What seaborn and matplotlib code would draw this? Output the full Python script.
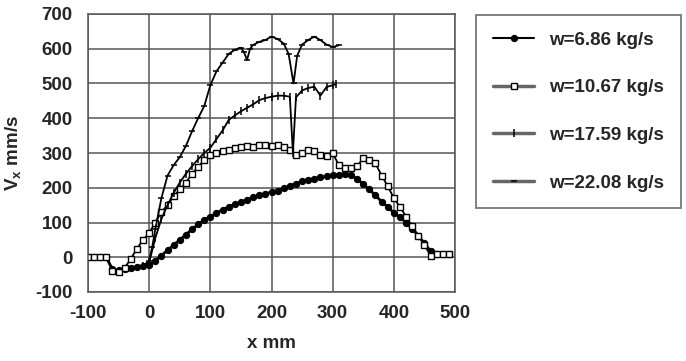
import matplotlib
matplotlib.use("Agg")
import matplotlib.pyplot as plt
import seaborn as sns
import numpy as np

# ---- data ----
x_686 = [-100, -90, -80, -70, -60, -50, -40, -30, -20, -10, 0, 10, 20, 30, 40, 50, 60, 70, 80, 90,
         100, 110, 120, 130, 140, 150, 160, 170, 180, 190, 200, 210, 220, 230, 240, 250, 260, 270, 280, 290,
         300, 310, 320, 330, 340, 350, 360, 370, 380, 390, 400, 410, 420, 430, 440, 450, 460, 470, 480, 490]
v_686 = [0, 0, 0, 0, -35, -38, -35, -30, -28, -25, -22, -10, 5, 20, 35, 50, 65, 80, 95, 107,
         117, 127, 137, 145, 152, 158, 165, 172, 178, 183, 187, 192, 198, 205, 212, 218, 222, 226, 230, 233,
         237, 238, 240, 237, 225, 210, 195, 178, 160, 145, 128, 115, 100, 82, 62, 40, 18, 10, 10, 10]

x_1067 = [-100, -90, -80, -70, -60, -50, -40, -30, -20, -10, 0, 10, 20, 30, 40, 50, 60, 70, 80, 90,
          100, 110, 120, 130, 140, 150, 160, 170, 180, 190, 200, 210, 220, 230, 240, 250, 260, 270, 280, 290,
          300, 310, 320, 330, 340, 350, 360, 370, 380, 390, 400, 410, 420, 430, 440, 450, 460, 470, 480, 490]
v_1067 = [0, 0, 0, 0, -40, -42, -30, -5, 25, 50, 70, 100, 130, 150, 175, 195, 215, 240, 260, 280,
          295, 300, 305, 310, 315, 318, 320, 318, 322, 323, 320, 322, 318, 310, 295, 300, 310, 305, 295, 290,
          300, 265, 258, 256, 262, 285, 280, 270, 235, 205, 170, 145, 117, 90, 62, 35, 5, 10, 10, 10]

x_1759 = [-10, 0, 10, 20, 30, 40, 50, 60, 70, 80, 90, 100, 110, 120, 130, 140, 150, 160, 170, 180,
          190, 200, 210, 220, 230, 235, 240, 250, 260, 270, 280, 290, 300, 305]
v_1759 = [-25, -15, 55, 110, 150, 185, 215, 240, 262, 282, 300, 315, 340, 365, 395, 408, 420, 430, 440, 452,
          458, 462, 465, 465, 462, 300, 460, 480, 487, 491, 465, 490, 495, 498]

x_2208 = [-10, 0, 5, 10, 20, 30, 40, 50, 60, 70, 80, 90, 100, 110, 120, 130, 140, 150, 155, 160,
          165, 170, 180, 190, 200, 210, 220, 228, 236, 242, 250, 260, 270, 280, 290, 300, 310]
v_2208 = [-25, -10, 30, 80, 170, 235, 265, 288, 320, 362, 400, 435, 495, 535, 560, 585, 597, 603, 590, 568,
          600, 611, 620, 625, 635, 628, 615, 585, 500, 580, 612, 625, 635, 625, 612, 605, 610]

labels = ["w=6.86 kg/s", "w=10.67 kg/s", "w=17.59 kg/s", "w=22.08 kg/s"]
x_ticks = [-100, 0, 100, 200, 300, 400, 500]
y_ticks = [-100, 0, 100, 200, 300, 400, 500, 600, 700]

FS = 13.5
sns.set_style("white")
plt.rcParams["font.family"] = ["Liberation Sans", "DejaVu Sans"]
plt.rcParams["font.weight"] = "bold"
plt.rcParams["axes.unicode_minus"] = False
plt.rcParams["mathtext.fontset"] = "custom"
plt.rcParams["mathtext.rm"] = "Liberation Sans:bold"
plt.rcParams["mathtext.it"] = "Liberation Sans:bold"
plt.rcParams["mathtext.bf"] = "Liberation Sans:bold"

W, H = 686, 361
fig = plt.figure(figsize=(W / 100, H / 100), dpi=100)
ax = fig.add_axes([88 / W, 1 - 292 / H, (455 - 88) / W, (292 - 14) / H])

sns.lineplot(x=x_686, y=v_686, ax=ax, color="black", lw=2.0, marker="o", markersize=4.5,
             markeredgecolor="black", markerfacecolor="black", sort=False, estimator=None, label=labels[0])
sns.lineplot(x=x_1067, y=v_1067, ax=ax, color="black", lw=1.3, marker="s", markersize=5,
             markeredgecolor="black", markerfacecolor="white", markeredgewidth=1.0,
             sort=False, estimator=None, label=labels[1])
sns.lineplot(x=x_1759, y=v_1759, ax=ax, color="black", lw=1.3, marker="|", markersize=6,
             markeredgecolor="black", markeredgewidth=1.1, sort=False, estimator=None, label=labels[2])
sns.lineplot(x=x_2208, y=v_2208, ax=ax, color="black", lw=1.3, marker="_", markersize=5,
             markeredgecolor="black", markeredgewidth=1.1, sort=False, estimator=None, label=labels[3])

ax.set_xlim(-100, 500)
ax.set_ylim(-100, 700)
ax.set_xticks(x_ticks)
ax.set_yticks(y_ticks)
ax.grid(True, color="#555555", lw=1.1)
ax.set_axisbelow(True)
for s in ax.spines.values():
    s.set_color("#555555")
    s.set_linewidth(1.1)
ax.tick_params(axis="both", length=0, labelsize=FS)
ax.tick_params(axis="x", pad=9)
ax.tick_params(axis="y", pad=11)
for t in ax.get_xticklabels() + ax.get_yticklabels():
    t.set_fontweight("bold")

ax.set_xlabel("x mm", fontsize=FS, fontweight="bold", labelpad=10)
ax.set_ylabel(r"V$_{\mathregular{x}}$ mm/s", fontsize=FS, fontweight="bold", labelpad=9)

ax.get_legend().remove()
handles, lbls = ax.get_legend_handles_labels()
leg = fig.legend(handles, lbls, loc="upper left", bbox_to_anchor=(476 / W, 1 - 15 / H),
                 borderaxespad=0, borderpad=0.9, labelspacing=1.62, handlelength=2.2,
                 handletextpad=0.8, frameon=True, fancybox=False,
                 prop={"size": FS, "weight": "bold"})
leg.get_frame().set_edgecolor("#555555")
leg.get_frame().set_linewidth(1.3)
for i, ln in enumerate(leg.get_lines()):
    if i == 0:
        ln.set_linewidth(1.5)
    else:
        ln.set_color("#666666")
        ln.set_linewidth(2.5)

fig.savefig("out.png", dpi=100, facecolor="white")
